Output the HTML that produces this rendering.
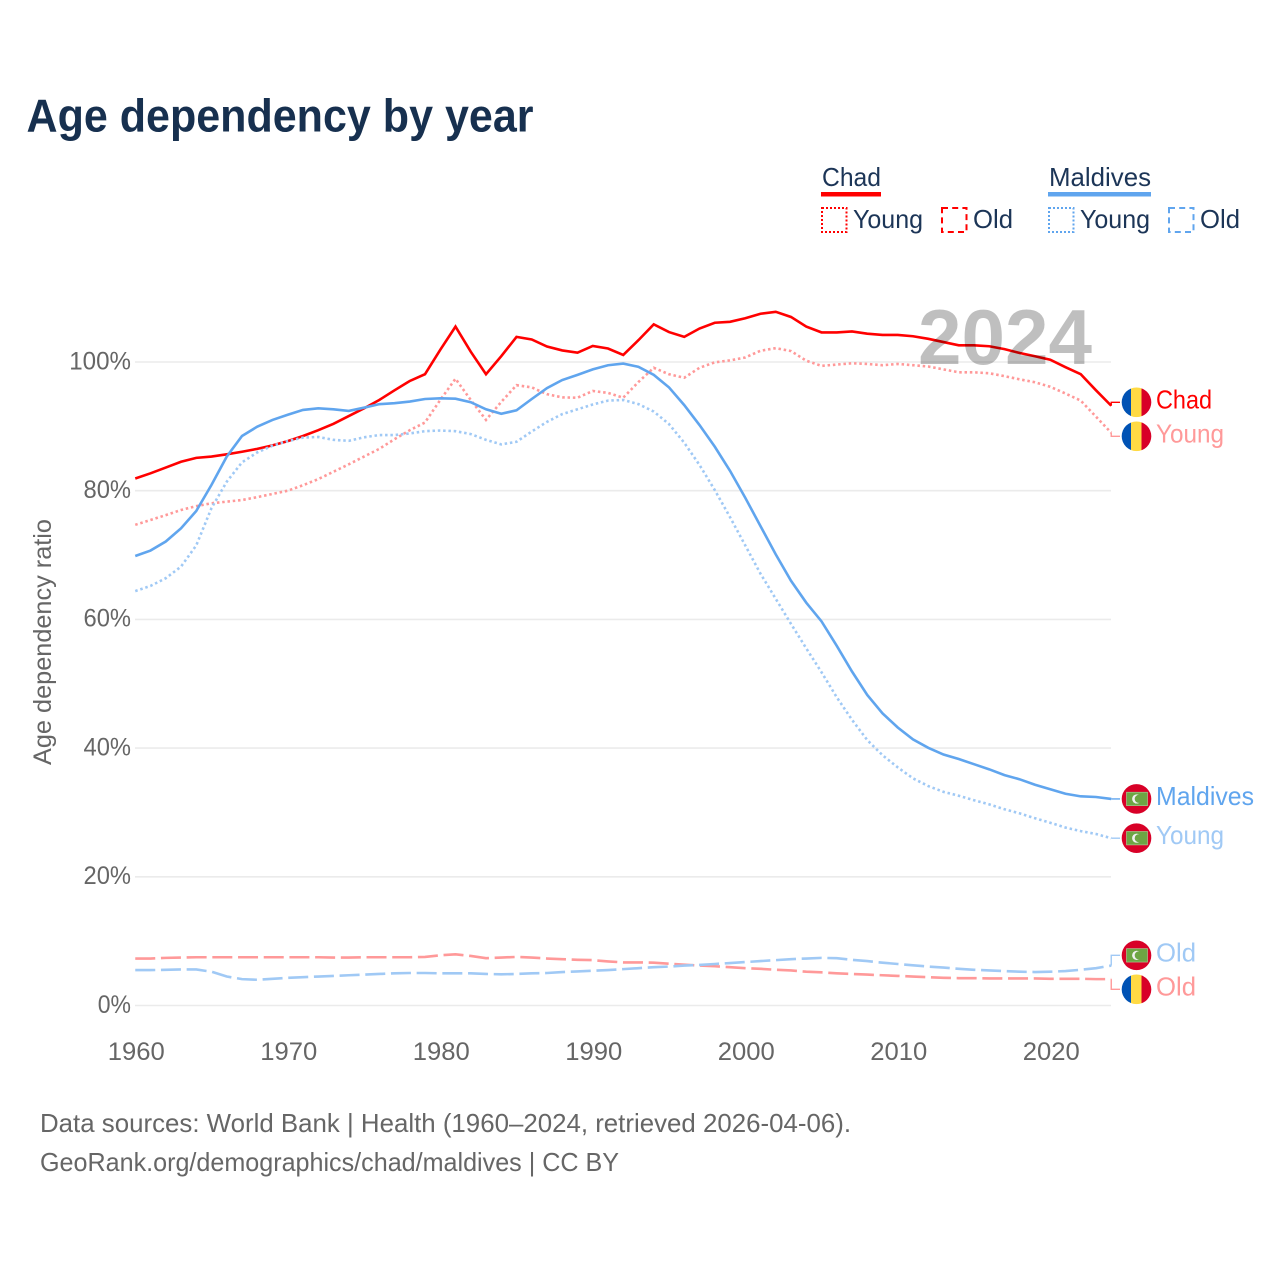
<!DOCTYPE html>
<html lang="en">
<head>
<meta charset="utf-8">
<title>Age dependency by year</title>
<style>
html,body{margin:0;padding:0;background:#fff;}
svg{display:block;font-family:"Liberation Sans",sans-serif;}
</style>
</head>
<body>
<svg id="chart" width="1280" height="1280" viewBox="0 0 1280 1280" xmlns="http://www.w3.org/2000/svg">
  <rect x="0" y="0" width="1280" height="1280" fill="#ffffff"/>
  <text x="26.5" y="131.5" font-size="46" font-weight="700" fill="#17304f" textLength="507" lengthAdjust="spacingAndGlyphs">Age dependency by year</text>

  <g>
    <text x="822" y="186" font-size="26" fill="#1c3557" textLength="59" lengthAdjust="spacingAndGlyphs">Chad</text>
    <rect x="821" y="192" width="60" height="4.5" fill="#ff0000"/>
    <rect x="822" y="208" width="24.5" height="24" fill="none" stroke="#ff0000" stroke-width="2" stroke-dasharray="2 2"/>
    <text x="853" y="228" font-size="26" fill="#1c3557" textLength="70" lengthAdjust="spacingAndGlyphs">Young</text>
    <rect x="942" y="208" width="24.5" height="24" fill="none" stroke="#ff0000" stroke-width="2" stroke-dasharray="6 4.2"/>
    <text x="973" y="228" font-size="26" fill="#1c3557" textLength="40" lengthAdjust="spacingAndGlyphs">Old</text>
    <text x="1049" y="186" font-size="26" fill="#1c3557" textLength="102" lengthAdjust="spacingAndGlyphs">Maldives</text>
    <rect x="1048" y="192" width="103" height="4.5" fill="#60a5ee"/>
    <rect x="1049" y="208" width="24.5" height="24" fill="none" stroke="#60a5ee" stroke-width="2" stroke-dasharray="2 2"/>
    <text x="1080" y="228" font-size="26" fill="#1c3557" textLength="70" lengthAdjust="spacingAndGlyphs">Young</text>
    <rect x="1169" y="208" width="24.5" height="24" fill="none" stroke="#60a5ee" stroke-width="2" stroke-dasharray="6 4.2"/>
    <text x="1200" y="228" font-size="26" fill="#1c3557" textLength="40" lengthAdjust="spacingAndGlyphs">Old</text>
  </g>

  <g id="grid"></g>
  <g id="y-axis"></g>
  <g id="x-axis"></g>
  <text transform="translate(51,642) rotate(-90)" text-anchor="middle" font-size="25" fill="#666666" textLength="246" lengthAdjust="spacingAndGlyphs">Age dependency ratio</text>
  <g id="series"></g>
  <g id="end-labels"></g>
  <text x="1005" y="364" text-anchor="middle" font-size="78" font-weight="700" fill="#000000" fill-opacity="0.25" textLength="174" lengthAdjust="spacingAndGlyphs">2024</text>

  <text x="40" y="1132" font-size="26" fill="#666666" textLength="811" lengthAdjust="spacingAndGlyphs">Data sources: World Bank | Health (1960–2024, retrieved 2026-04-06).</text>
  <text x="40" y="1171" font-size="26" fill="#666666" textLength="579" lengthAdjust="spacingAndGlyphs">GeoRank.org/demographics/chad/maldives | CC BY</text>
</svg>
<script>
const years = [1960,1961,1962,1963,1964,1965,1966,1967,1968,1969,1970,1971,1972,1973,1974,1975,1976,1977,1978,1979,1980,1981,1982,1983,1984,1985,1986,1987,1988,1989,1990,1991,1992,1993,1994,1995,1996,1997,1998,1999,2000,2001,2002,2003,2004,2005,2006,2007,2008,2009,2010,2011,2012,2013,2014,2015,2016,2017,2018,2019,2020,2021,2022,2023,2024];
const chadTotal = [81.9,82.7,83.6,84.5,85.1,85.3,85.65,86.05,86.5,87.05,87.7,88.5,89.4,90.4,91.6,92.8,94.1,95.6,97.05,98.1,101.9,105.5,101.6,98.1,100.9,103.9,103.5,102.4,101.8,101.45,102.5,102.1,101.1,103.4,105.85,104.65,103.9,105.2,106.1,106.25,106.8,107.5,107.8,107.0,105.5,104.6,104.6,104.75,104.4,104.2,104.2,104.0,103.6,103.1,102.6,102.6,102.45,102,101.4,100.9,100.35,99.2,98.1,95.6,93.2];
const chadYoung = [74.7,75.45,76.2,77,77.6,78.05,78.3,78.55,79,79.5,80,80.85,81.8,82.95,84.1,85.3,86.5,88,89.4,90.6,94.1,97.4,94.1,91,93.8,96.4,96.05,95,94.5,94.45,95.5,95.2,94.45,96.9,99.1,98.1,97.55,99.1,99.95,100.25,100.7,101.75,102.15,101.7,100.2,99.4,99.6,99.8,99.7,99.5,99.7,99.5,99.3,98.85,98.4,98.4,98.25,97.8,97.3,96.85,96.15,95.1,94,91.5,89.0];
const chadOld = [7.3,7.3,7.4,7.45,7.5,7.5,7.5,7.5,7.5,7.5,7.5,7.5,7.5,7.45,7.45,7.5,7.5,7.5,7.5,7.55,7.8,7.95,7.7,7.35,7.45,7.55,7.45,7.3,7.2,7.1,7.05,6.85,6.7,6.7,6.65,6.5,6.35,6.2,6.1,5.95,5.8,5.7,5.55,5.45,5.25,5.15,5,4.9,4.8,4.7,4.6,4.5,4.4,4.3,4.25,4.25,4.2,4.2,4.2,4.2,4.15,4.15,4.15,4.1,4.1];
const maldivesTotal = [69.85,70.7,72.1,74.15,76.85,80.9,85.3,88.5,89.95,91,91.8,92.55,92.8,92.65,92.4,92.9,93.45,93.6,93.85,94.25,94.35,94.3,93.75,92.65,91.95,92.5,94.25,95.95,97.2,98,98.85,99.5,99.75,99.25,98,96.05,93.3,90.2,86.85,83.1,78.9,74.5,70.1,66,62.6,59.7,55.9,51.9,48.25,45.4,43.2,41.35,40.05,39,38.3,37.5,36.7,35.8,35.15,34.3,33.6,32.9,32.5,32.4,32.1];
const maldivesYoung = [64.4,65.2,66.4,68.2,71.5,77.3,81.4,84.4,85.95,87,87.7,88.25,88.35,87.9,87.75,88.3,88.65,88.65,88.9,89.25,89.35,89.25,88.8,87.9,87.2,87.6,89.2,90.7,91.9,92.65,93.4,94,94.1,93.45,92.3,90.35,87.45,84,80.1,75.9,71.5,67.1,63.2,59.3,55.5,51.8,47.9,44.4,41.25,38.9,37,35.3,34.1,33.2,32.6,31.9,31.25,30.5,29.85,29.1,28.4,27.65,27.1,26.65,26];
const maldivesOld = [5.5,5.5,5.55,5.6,5.6,5.25,4.5,4.1,4,4.15,4.3,4.4,4.5,4.6,4.7,4.8,4.9,5,5.05,5.05,5,5,5,4.9,4.85,4.9,5,5.05,5.2,5.3,5.4,5.5,5.65,5.8,5.95,6.05,6.2,6.3,6.45,6.6,6.75,6.9,7.05,7.2,7.3,7.4,7.35,7.1,6.9,6.65,6.45,6.25,6.05,5.9,5.7,5.55,5.45,5.35,5.25,5.2,5.25,5.35,5.55,5.8,6.2];
const yTickValues = [0,20,40,60,80,100];
const yTickLabels = ["0%","20%","40%","60%","80%","100%"];
const xTickValues = [1960,1970,1980,1990,2000,2010,2020];
const xTickLabels = ["1960","1970","1980","1990","2000","2010","2020"];

const SVGNS = "http://www.w3.org/2000/svg";
function x(year){ return 135.25 + (year - 1960) * 15.25; }
function y(value){ return 1005.5 - value * 6.435; }
function make(tag, attrs, parent){
  const el = document.createElementNS(SVGNS, tag);
  for (const k in attrs) el.setAttribute(k, attrs[k]);
  parent.appendChild(el);
  return el;
}

const gridG = document.getElementById("grid");
const yAxisG = document.getElementById("y-axis");
const xAxisG = document.getElementById("x-axis");
const seriesG = document.getElementById("series");
const labelsG = document.getElementById("end-labels");

yTickValues.forEach(function(v, i){
  const line = make("line", {x1:135, x2:1111, y1:y(v), y2:y(v), stroke:"#ebebeb", "stroke-width":1.6}, gridG);
  
  
  const label = yTickLabels[i];
  const t = make("text", {x:131, y:y(v)+7.3, "text-anchor":"end", "font-size":25, fill:"#666666",
    textLength:(label.length-1)*14.25+19, lengthAdjust:"spacingAndGlyphs"}, yAxisG);
  t.textContent = label;
  
  
});

xTickValues.forEach(function(v, i){
  const t = make("text", {x:x(v)+1, y:1060, "text-anchor":"middle", "font-size":25, fill:"#666666",
    textLength:57, lengthAdjust:"spacingAndGlyphs"}, xAxisG);
  t.textContent = xTickLabels[i];
  
  
});

const series = [
  {key:"chad-total", values:chadTotal, color:"#ff0000", dash:"", label:"Chad", width:56, flag:"chad"},
  {key:"chad-young", values:chadYoung, color:"#ff9999", dash:"2.5 2.8", label:"Young", width:68, flag:"chad"},
  {key:"chad-old", values:chadOld, color:"#ff9999", dash:"20 5.7", label:"Old", width:40, flag:"chad"},
  {key:"maldives-total", values:maldivesTotal, color:"#60a5ee", dash:"", label:"Maldives", width:98, flag:"maldives"},
  {key:"maldives-young", values:maldivesYoung, color:"#a0c9f5", dash:"2.5 2.8", label:"Young", width:68, flag:"maldives"},
  {key:"maldives-old", values:maldivesOld, color:"#a0c9f5", dash:"20 5.7", label:"Old", width:40, flag:"maldives"}
];

series.forEach(function(s){
  const d = s.values.map(function(v, i){
    return (i ? "L" : "M") + x(years[i]).toFixed(2) + " " + y(v).toFixed(2);
  }).join(" ");
  const p = make("path", {d:d, fill:"none", stroke:s.color, "stroke-width":2.6, "stroke-linejoin":"miter"}, seriesG);
  if (s.dash) p.setAttribute("stroke-dasharray", s.dash);
  
  
});

/* End labels: start at the last value, then push overlapping neighbours apart */
const minGap = 34;
const lastYear = years[years.length - 1];
const placed = series.map(function(s){
  const end = y(s.values[s.values.length - 1]);
  return {s:s, end:end, ly:end};
}).sort(function(a, b){ return a.end - b.end; });
for (let i = 0; i < placed.length - 1; i++){
  const a = placed[i], b = placed[i + 1];
  if (b.ly - a.ly < minGap){
    const mid = (a.ly + b.ly) / 2;
    a.ly = mid - minGap / 2;
    b.ly = mid + minGap / 2;
  }
}

placed.forEach(function(p){
  const s = p.s, cy = p.ly, ex = x(lastYear);
  const conn = make("path", {d:"M"+ex+" "+p.end+" L"+ex+" "+cy+" L1120 "+cy, fill:"none", stroke:s.color, "stroke-width":1.4}, labelsG);
  
  

  const flag = make("g", {}, labelsG);
  
  
  if (s.flag === "chad"){
    const clipId = "clip-" + s.key;
    const clip = make("clipPath", {id:clipId}, flag);
    make("circle", {cx:1136.5, cy:cy, r:14.8}, clip);
    const bands = make("g", {"clip-path":"url(#"+clipId+")"}, flag);
    make("rect", {x:1121, y:cy-15, width:10, height:30, fill:"#0052b4"}, bands);
    make("rect", {x:1131, y:cy-15, width:10.5, height:30, fill:"#ffda44"}, bands);
    make("rect", {x:1141.5, y:cy-15, width:10, height:30, fill:"#d80027"}, bands);
  } else {
    make("circle", {cx:1136.5, cy:cy, r:14.8, fill:"#d80027"}, flag);
    make("rect", {x:1126.5, y:cy-6.7, width:21, height:13.4, fill:"#6da544", stroke:"#a9c48f", "stroke-width":0.7}, flag);
    make("circle", {cx:1136.7, cy:cy, r:4.6, fill:"#f0f0f0"}, flag);
    make("circle", {cx:1138.7, cy:cy, r:4, fill:"#6da544"}, flag);
  }

  const t = make("text", {x:1156, y:cy+6, "font-size":26, fill:s.color, textLength:s.width, lengthAdjust:"spacingAndGlyphs"}, labelsG);
  t.textContent = s.label;
  
  
});
</script>
</body>
</html>
